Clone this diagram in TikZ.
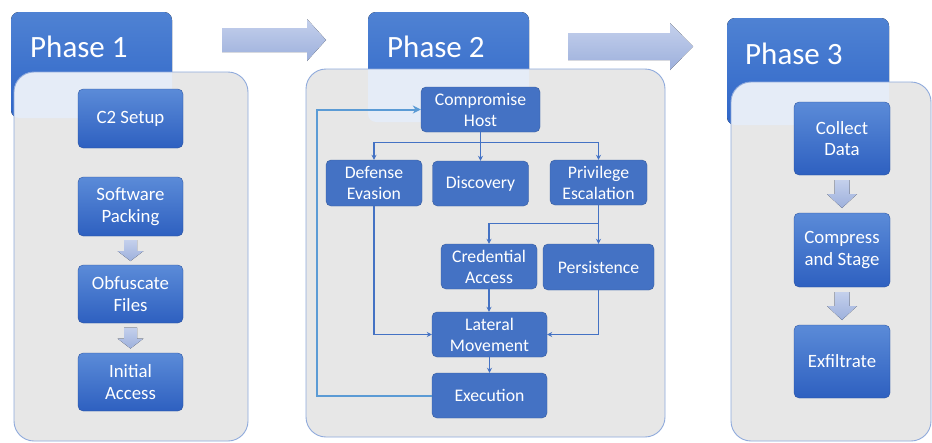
\documentclass[tikz,border=0pt]{standalone}
\usepackage{fontspec}
\setmainfont{Carlito}
\usetikzlibrary{calc,arrows.meta}
\definecolor{boxblue}{HTML}{4472C4}
\definecolor{boxtop}{HTML}{5B8BD8}
\definecolor{boxbot}{HTML}{2E60C0}
\definecolor{hdrtop}{HTML}{4F82D3}
\definecolor{hdrbot}{HTML}{2F66C8}
\definecolor{panelfill}{HTML}{E7E7E7}
\definecolor{panelline}{HTML}{8FAADC}
\definecolor{overlap}{HTML}{E5ECF7}
\definecolor{arrtop}{HTML}{C4D0EC}
\definecolor{arrbot}{HTML}{9DB0DC}
\definecolor{fbblue}{HTML}{5B9BD5}
\tikzset{
  hdr/.style={rounded corners=8pt, top color=hdrtop, bottom color=hdrbot},
  panelbox/.style={rounded corners=20pt, fill=panelfill},
  panelborder/.style={rounded corners=20pt, draw=panelline, line width=0.9pt},
  phasetxt/.style={text=white, font=\fontsize{31}{36}\selectfont, anchor=west, inner sep=0pt},
  gbox/.style={rounded corners=5pt, top color=boxtop, bottom color=boxbot, draw=boxbot!80!black, line width=0.3pt,
     text=white, align=center, font=\fontsize{18.8}{21.5}\selectfont, inner sep=0pt},
  fbox/.style={rounded corners=5pt, fill=boxblue, draw=boxblue!80!black, line width=0.4pt,
     text=white, align=center, font=\fontsize{17.7}{21}\selectfont, inner sep=0pt},
  conn/.style={draw=boxblue, line width=1.4pt, -{Stealth[length=5pt,width=5pt]}},
  fb/.style={draw=fbblue, line width=2pt, -{Stealth[length=8pt,width=8pt]}},
  barrow/.style={top color=arrtop, bottom color=arrbot},
  darr/.pic={\fill[barrow] (-6.5,-10.5) -- (6.5,-10.5) -- (6.5,0.5) -- (13,0.5) -- (0,10.5) -- (-13,0.5) -- (-6.5,0.5) -- cycle;},
  darrb/.pic={\fill[barrow] (-7.5,-14) -- (7.5,-14) -- (7.5,0) -- (15,0) -- (0,14) -- (-15,0) -- (-7.5,0) -- cycle;},
}
\begin{document}
\begin{tikzpicture}[x=1pt,y=-1pt]
\useasboundingbox[fill=white] (0,0) rectangle (932,442);

% ---------- big arrows between phases
\fill[barrow] (222,28) -- (307,28) -- (307,19) -- (326,40) -- (307,61) -- (307,52) -- (222,52) -- cycle;
\fill[barrow] (568,33) -- (670,33) -- (670,23) -- (693,46.5) -- (670,70) -- (670,60) -- (568,60) -- cycle;

% ---------- Phase 1
\fill[hdr] (11,12) rectangle (172,118);
\fill[panelbox] (14,72) rectangle (248,441);
\begin{scope}
  \clip[rounded corners=20pt] (14,72) rectangle (248,441);
  \fill[overlap, rounded corners=8pt] (11,12) rectangle (172,118);
\end{scope}
\draw[panelborder] (14,72) rectangle (248,441);
\node[phasetxt] (p1) at (30,47) {Phase 1};

\node[gbox, minimum width=105pt, minimum height=59pt] (c2) at (130.5,118.5) {C2 Setup};
\node[gbox, minimum width=105pt, minimum height=59pt] (sp) at (130.5,206.5) {Software\\Packing};
\node[gbox, minimum width=105pt, minimum height=58pt] (of) at (130.5,294) {Obfuscate\\Files};
\node[gbox, minimum width=105pt, minimum height=58pt] (ia) at (130.5,382) {Initial\\Access};
\pic at ($(sp.south)!0.5!(of.north)$) {darr};
\pic at ($(of.south)!0.5!(ia.north)$) {darr};

% ---------- Phase 2
\fill[hdr] (368,12) rectangle (529,122);
\fill[panelbox] (306,69) rectangle (665,437);
\begin{scope}
  \clip[rounded corners=20pt] (306,69) rectangle (665,437);
  \fill[overlap, rounded corners=8pt] (368,12) rectangle (529,122);
\end{scope}
\draw[panelborder] (306,69) rectangle (665,437);
\node[phasetxt] (p2) at (387,47) {Phase 2};

\node[fbox, minimum width=119pt, minimum height=45pt] (ch) at (480.5,109.5) {Compromise\\Host};
\node[fbox, minimum width=96pt, minimum height=46pt] (de) at (374,183) {Defense\\Evasion};
\node[fbox, minimum width=96pt, minimum height=45pt] (di) at (480.5,183.5) {Discovery};
\node[fbox, minimum width=97pt, minimum height=45pt] (pe) at (598.5,182.5) {Privilege\\Escalation};
\node[fbox, minimum width=96pt, minimum height=45pt] (ca) at (489,266.5) {Credential\\Access};
\node[fbox, minimum width=111pt, minimum height=46pt] (ps) at (598.5,267) {Persistence};
\node[fbox, minimum width=115pt, minimum height=45pt] (lm) at (489.5,334.5) {Lateral\\Movement};
\node[fbox, minimum width=115pt, minimum height=45pt] (ex) at (489.5,395.5) {Execution};

\coordinate (j1) at ($(ch.south)+(0,10)$);
\draw[conn] (ch.south) -- (ch.south |- di.north);
\draw[conn] (j1) -| (de.north);
\draw[conn] (j1) -| (pe.north);
\coordinate (j2) at ($(pe.south)+(0,18)$);
\draw[conn] (pe.south) -- (pe.south |- ps.north);
\draw[conn] (j2) -| (ca.north);
\draw[conn] (ca.south) -- (ca.south |- lm.north);
\draw[conn] (de.south) |- (lm.west);
\draw[conn] (ps.south) |- (lm.east);
\draw[conn] (lm.south) -- (lm.south |- ex.north);
\coordinate (fbx) at (317,395.5);
\draw[fb] (ex.west) -- (fbx) |- (ch.west);

% ---------- Phase 3
\fill[hdr] (727,18) rectangle (889,125);
\fill[panelbox] (731,82) rectangle (931,441);
\begin{scope}
  \clip[rounded corners=20pt] (731,82) rectangle (931,441);
  \fill[overlap, rounded corners=8pt] (727,18) rectangle (889,125);
\end{scope}
\draw[panelborder] (731,82) rectangle (931,441);
\node[phasetxt] (p3) at (745,54) {Phase 3};

\node[gbox, minimum width=96pt, minimum height=73pt] (cd) at (842,138.5) {Collect\\Data};
\node[gbox, minimum width=96pt, minimum height=74pt] (cs) at (842,250) {Compress\\and Stage};
\node[gbox, minimum width=96pt, minimum height=73pt] (xf) at (842,361.5) {Exfiltrate};
\pic at ($(cd.south)!0.5!(cs.north)$) {darrb};
\pic at ($(cs.south)!0.5!(xf.north)$) {darrb};
\end{tikzpicture}
\end{document}
